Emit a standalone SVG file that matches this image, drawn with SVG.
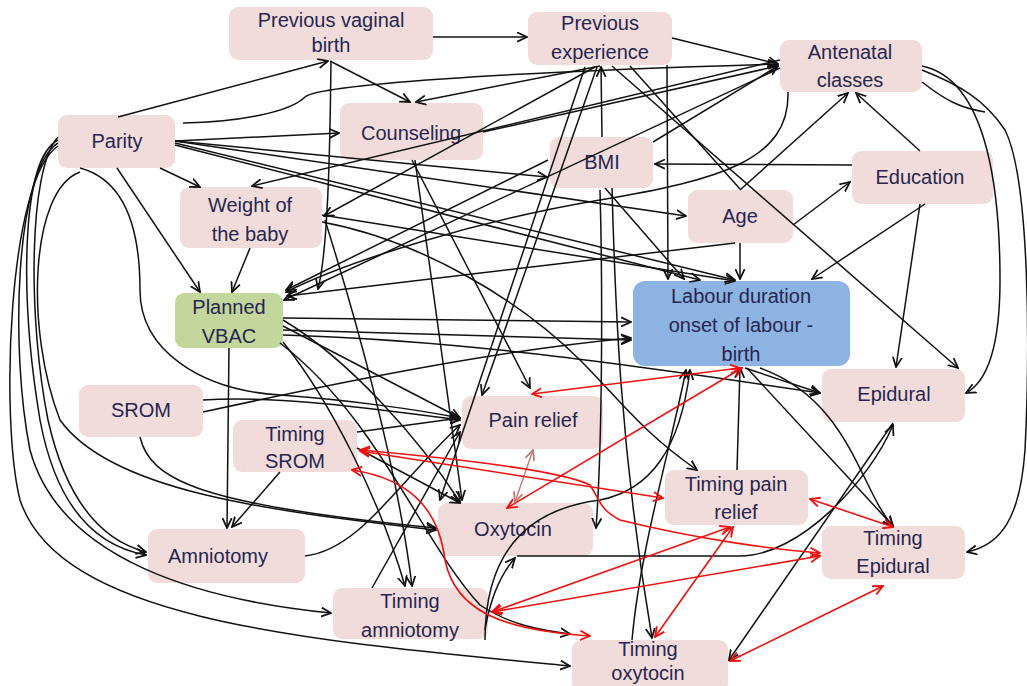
<svg xmlns="http://www.w3.org/2000/svg" width="1027" height="686" viewBox="0 0 1027 686">
<style>
.n{fill:#f2dcdb;}
.g{fill:#c3d69b;}
.b{fill:#8db3e2;}
.t{font-family:"Liberation Sans",Arial,sans-serif;font-size:20px;fill:#262650;text-anchor:middle;}
.e{fill:none;stroke:#111;stroke-width:1.5;marker-end:url(#a);}
.l{fill:none;stroke:#111;stroke-width:1.5;}
.r{fill:none;stroke:#f01010;stroke-width:1.6;marker-start:url(#ar);marker-end:url(#ar);}
.p{fill:none;stroke:#c47878;stroke-width:1.4;marker-start:url(#ap);marker-end:url(#ap);}
</style>
<defs>
<marker id="a" viewBox="0 0 10 10" refX="9" refY="5" markerWidth="11" markerHeight="11" markerUnits="userSpaceOnUse" orient="auto-start-reverse"><path d="M0,0.8 L9,5 L0,9.2" fill="none" stroke="#111" stroke-width="1.6"/></marker>
<marker id="ar" viewBox="0 0 10 10" refX="9" refY="5" markerWidth="11" markerHeight="11" markerUnits="userSpaceOnUse" orient="auto-start-reverse"><path d="M0,0.8 L9,5 L0,9.2" fill="none" stroke="#f01010" stroke-width="1.7"/></marker>
<marker id="ap" viewBox="0 0 10 10" refX="9" refY="5" markerWidth="11" markerHeight="11" markerUnits="userSpaceOnUse" orient="auto-start-reverse"><path d="M0,0.8 L9,5 L0,9.2" fill="none" stroke="#c47878" stroke-width="1.6"/></marker>
</defs>
<rect width="1027" height="686" fill="#fff"/>
<g id="n-pvb"><rect class="n" x="229" y="7" width="204" height="53" rx="9"/><text class="t" x="331" y="27">Previous vaginal</text><text class="t" x="331" y="52">birth</text></g>
<g id="n-pe"><rect class="n" x="528" y="12" width="144" height="53" rx="9"/><text class="t" x="600" y="30">Previous</text><text class="t" x="600" y="59">experience</text></g>
<g id="n-ant"><rect class="n" x="780" y="40" width="142" height="52" rx="9"/><text class="t" x="850" y="59">Antenatal</text><text class="t" x="850" y="87">classes</text></g>
<g id="n-parity"><rect class="n" x="58" y="115" width="117" height="53" rx="9"/><text class="t" x="117" y="148">Parity</text></g>
<g id="n-couns"><rect class="n" x="340" y="103" width="143" height="57" rx="9"/><text class="t" x="411" y="140">Counseling</text></g>
<g id="n-bmi"><rect class="n" x="550" y="137" width="103" height="51" rx="9"/><text class="t" x="602" y="169">BMI</text></g>
<g id="n-edu"><rect class="n" x="852" y="151" width="141" height="53" rx="9"/><text class="t" x="920" y="184">Education</text></g>
<g id="n-age"><rect class="n" x="688" y="190" width="105" height="53" rx="9"/><text class="t" x="740" y="223">Age</text></g>
<g id="n-weight"><rect class="n" x="180" y="187" width="142" height="61" rx="9"/><text class="t" x="250" y="212">Weight of</text><text class="t" x="250" y="241">the baby</text></g>
<g id="n-vbac"><rect class="g" x="175" y="293" width="108" height="55" rx="9"/><text class="t" x="229" y="314">Planned</text><text class="t" x="229" y="343">VBAC</text></g>
<g id="n-labour"><rect class="b" x="633" y="281" width="217" height="85" rx="12"/><text class="t" x="741" y="303">Labour duration</text><text class="t" x="741" y="332">onset of labour -</text><text class="t" x="741" y="361">birth</text></g>
<g id="n-srom"><rect class="n" x="79" y="385" width="124" height="52" rx="9"/><text class="t" x="141" y="417">SROM</text></g>
<g id="n-pain"><rect class="n" x="462" y="396" width="141" height="53" rx="9"/><text class="t" x="533" y="427">Pain relief</text></g>
<g id="n-epi"><rect class="n" x="822" y="369" width="143" height="53" rx="9"/><text class="t" x="894" y="401">Epidural</text></g>
<g id="n-tsrom"><rect class="n" x="233" y="420" width="124" height="52" rx="9"/><text class="t" x="295" y="441">Timing</text><text class="t" x="295" y="468">SROM</text></g>
<g id="n-tpain"><rect class="n" x="665" y="470" width="143" height="55" rx="9"/><text class="t" x="736" y="491">Timing pain</text><text class="t" x="736" y="519">relief</text></g>
<g id="n-oxy"><rect class="n" x="438" y="503" width="155" height="53" rx="9"/><text class="t" x="513" y="536">Oxytocin</text></g>
<g id="n-tepi"><rect class="n" x="822" y="526" width="143" height="53" rx="9"/><text class="t" x="893" y="545">Timing</text><text class="t" x="893" y="573">Epidural</text></g>
<g id="n-amnio"><rect class="n" x="148" y="529" width="157" height="54" rx="9"/><text class="t" x="218" y="563">Amniotomy</text></g>
<g id="n-tamnio"><rect class="n" x="333" y="588" width="155" height="51" rx="9"/><text class="t" x="410" y="608">Timing</text><text class="t" x="410" y="637">amniotomy</text></g>
<g id="n-toxy"><rect class="n" x="572" y="640" width="156" height="52" rx="9"/><text class="t" x="648" y="656">Timing</text><text class="t" x="648" y="680">oxytocin</text></g>
<g id="connectors">
<path class="e" d="M118,117 L328,61"/>
<path class="e" d="M183,123 C240,122 290,112 305,97 C318,85 500,72 778,64"/>
<path class="e" d="M175,141 L339,133"/>
<path class="e" d="M175,141 L547,177"/>
<path class="e" d="M175,141 L686,216"/>
<path class="e" d="M175,143 L735,280"/>
<path class="e" d="M175,145 L700,280"/>
<path class="e" d="M160,168 L200,187"/>
<path class="e" d="M117,168 L200,292"/>
<path class="e" d="M58,140 C20,160 20,300 40,420 C55,500 90,545 146,555"/>
<path class="e" d="M58,137 C28,170 28,320 48,420 C66,500 100,540 146,552"/>
<path class="e" d="M58,143 C15,170 10,350 30,450 C60,560 200,600 331,613"/>
<path class="e" d="M58,146 C8,180 0,420 20,500 C60,620 300,640 570,666"/>
<path class="e" d="M80,172 C30,190 25,330 60,420 C110,490 260,510 436,530"/>
<path class="e" d="M80,168 C125,180 140,230 140,290 C140,350 200,390 280,395 C350,400 420,410 460,418"/>
<path class="e" d="M433,37 L527,37"/>
<path class="e" d="M330,61 L410,102"/>
<path class="e" d="M331,61 C330,150 328,250 318,289"/>
<path class="e" d="M672,38 L778,64"/>
<path class="e" d="M600,66 L416,102"/>
<path class="e" d="M602,137 L601,67"/>
<path class="e" d="M667,65 L668,279"/>
<path class="e" d="M612,66 L958,368"/>
<path class="e" d="M597,67 L482,395"/>
<path class="e" d="M595,67 L324,216"/>
<path class="e" d="M585,67 L440,500"/>
<path class="l" d="M630,66 L740,189"/>
<path class="e" d="M740,190 L848,93"/>
<path class="e" d="M780,60 L252,186"/>
<path class="e" d="M780,68 L284,300"/>
<path class="e" d="M788,92 C790,160 720,180 600,200 C480,220 350,260 286,292"/>
<path class="e" d="M483,132 L778,66"/>
<path class="e" d="M922,66 C990,80 1000,200 1000,280 C1000,340 990,380 966,393"/>
<path class="l" d="M922,82 C945,100 960,108 985,112"/>
<path class="e" d="M922,70 C960,85 985,100 1005,130 C1030,180 1030,350 1025,450 C1020,520 1000,545 967,552"/>
<path class="e" d="M920,151 L856,93"/>
<path class="e" d="M852,165 L655,164"/>
<path class="e" d="M925,204 L812,279"/>
<path class="e" d="M920,204 L896,367"/>
<path class="e" d="M793,225 L850,182"/>
<path class="e" d="M740,243 L740,279"/>
<path class="e" d="M735,243 L287,296"/>
<path class="e" d="M653,142 L778,66"/>
<path class="e" d="M605,188 L684,279"/>
<path class="e" d="M612,188 C615,300 620,450 652,638"/>
<path class="e" d="M600,190 C603,300 602,450 596,528"/>
<path class="e" d="M548,160 L286,290"/>
<path class="e" d="M412,160 L530,388"/>
<path class="e" d="M415,160 L462,500"/>
<path class="e" d="M250,248 L232,292"/>
<path class="e" d="M325,220 C350,300 395,450 412,586"/>
<path class="e" d="M322,215 L735,281"/>
<path class="e" d="M322,222 C420,240 520,300 580,360 C620,400 640,430 697,470"/>
<path class="e" d="M283,318 L631,322"/>
<path class="e" d="M283,330 L631,340"/>
<path class="e" d="M229,348 L227,528"/>
<path class="e" d="M283,320 C350,360 420,440 460,502"/>
<path class="e" d="M283,326 L460,418"/>
<path class="e" d="M283,335 C450,340 600,360 820,393"/>
<path class="e" d="M280,343 C380,420 420,540 480,605 C510,625 540,630 570,634"/>
<path class="e" d="M283,342 C330,400 380,500 405,586"/>
<path class="e" d="M203,400 C280,395 380,410 460,420"/>
<path class="e" d="M203,412 C350,380 500,350 631,338"/>
<path class="e" d="M140,437 C150,480 200,505 436,528"/>
<path class="e" d="M280,472 L232,527"/>
<path class="e" d="M357,432 L460,418"/>
<path class="e" d="M357,448 L460,503"/>
<path class="e" d="M305,556 C360,550 400,480 460,425"/>
<path class="e" d="M485,630 C490,600 500,575 515,558"/>
<path class="e" d="M485,640 C485,560 520,510 600,500 C650,490 680,450 690,370"/>
<path class="e" d="M372,588 L460,432"/>
<path class="e" d="M517,556 L740,556 C800,556 870,480 893,425"/>
<path class="e" d="M893,423 L729,660"/>
<path class="e" d="M737,470 L740,368"/>
<path class="e" d="M632,640 C640,550 670,450 686,370"/>
<path class="e" d="M745,368 L820,393"/>
<path class="e" d="M747,368 L893,526"/>
<path class="e" d="M760,368 C850,400 860,490 893,526"/>
<path class="r" d="M740,368 L532,394"/>
<path class="r" d="M742,368 L507,508"/>
<path class="p" d="M533,450 L515,502"/>
<path class="r" d="M360,451 L663,498"/>
<path class="r" d="M360,450 C450,458 560,470 590,485 C600,500 600,510 620,520 C700,540 780,550 820,553"/>
<path class="r" d="M352,470 C420,480 440,520 445,560 C455,610 500,630 590,636"/>
<path class="r" d="M492,612 L730,527"/>
<path class="r" d="M492,612 L820,556"/>
<path class="r" d="M733,527 L655,637"/>
<path class="r" d="M810,499 L893,527"/>
<path class="r" d="M883,586 L730,661"/>
</g>
</svg>
